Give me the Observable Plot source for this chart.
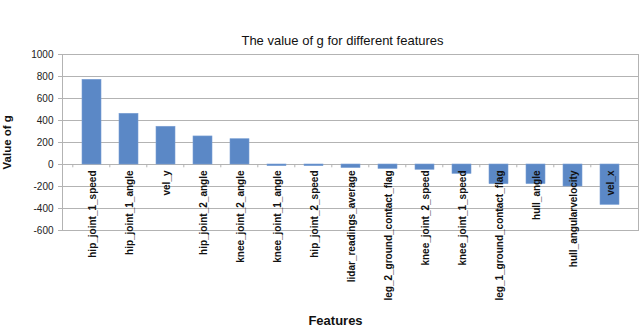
<!DOCTYPE html>
<html>
<head>
<meta charset="utf-8">
<script src="https://cdn.jsdelivr.net/npm/d3@7"></script>
<script src="https://cdn.jsdelivr.net/npm/@observablehq/plot@0.6"></script>
<style>
  html, body { margin: 0; padding: 0; background: #fff; }
  #chart svg { display: block; }
</style>
</head>
<body>
<div id="chart"></div>
<script>
const features = [
  "hip_joint_1_speed", "hip_joint_1_angle", "vel_y", "hip_joint_2_angle",
  "knee_joint_2_angle", "knee_joint_1_angle", "hip_joint_2_speed",
  "lidar_readings_average", "leg_2_ground_contact_flag", "knee_joint_2_speed",
  "knee_joint_1_speed", "leg_1_ground_contact_flag", "hull_angle",
  "hull_angularvelocity", "vel_x"
];
const gValues = [770, 461, 343, 255, 230, -15, -15, -32, -40, -48, -85, -179, -178, -200, -367];
const yTicks = [-600, -400, -200, 0, 200, 400, 600, 800, 1000];
const titleText = "The value of g for different features";
const xTitle = "Features";
const yTitle = "Value of g";

const data = features.map((f, i) => ({feature: f, g: gValues[i]}));

const font = "Liberation Sans, Arial, sans-serif";
const grid = "#b3b3b3";
const band = (640 - 62 - 2) / features.length;

const chart = Plot.plot({
  width: 640,
  height: 326,
  marginLeft: 62,
  marginRight: 2,
  marginTop: 54,
  marginBottom: 96,
  style: {fontFamily: font, background: "#fff"},
  x: {domain: features, padding: 0.5, axis: null},
  y: {domain: [-600, 1000], axis: null, label: null},
  marks: [
    Plot.gridY(yTicks, {stroke: grid, strokeOpacity: 1, strokeWidth: 1}),
    Plot.frame({stroke: grid, strokeWidth: 1}),
    Plot.ruleX(features, {x: d => d, y1: 0, y2: -30, dx: -band / 2, stroke: grid}),
    Plot.barY(data, {x: "feature", y: "g", fill: "#5b88c6", stroke: "#7a9fd4", strokeWidth: 0.6}),
    Plot.axisY(yTicks, {
      tickSize: 4, tickPadding: 5, stroke: grid, fill: "#222", label: null,
      fontSize: 10, tickFormat: d => String(d)
    }),
    Plot.text(features, {
      x: d => d, y: 0, text: d => d, rotate: -90, textAnchor: "end",
      lineAnchor: "middle", dy: 6, dx: 1, fontSize: 10, fontWeight: "bold", fill: "#111"
    }),
    Plot.text([titleText], {
      frameAnchor: "top", text: d => d, lineAnchor: "bottom",
      dy: -10, dx: -8, fontSize: 13, fill: "#111"
    }),
    Plot.text([xTitle], {
      frameAnchor: "bottom", text: d => d, lineAnchor: "bottom",
      dy: 94, dx: -15, fontSize: 13, fontWeight: "bold", fill: "#111"
    }),
    Plot.text([yTitle], {
      frameAnchor: "left", text: d => d, rotate: -90, lineAnchor: "middle",
      dx: -55, dy: 27, fontSize: 11.5, fontWeight: "bold", fill: "#111"
    })
  ]
});
document.getElementById("chart").appendChild(chart);
</script>
</body>
</html>
